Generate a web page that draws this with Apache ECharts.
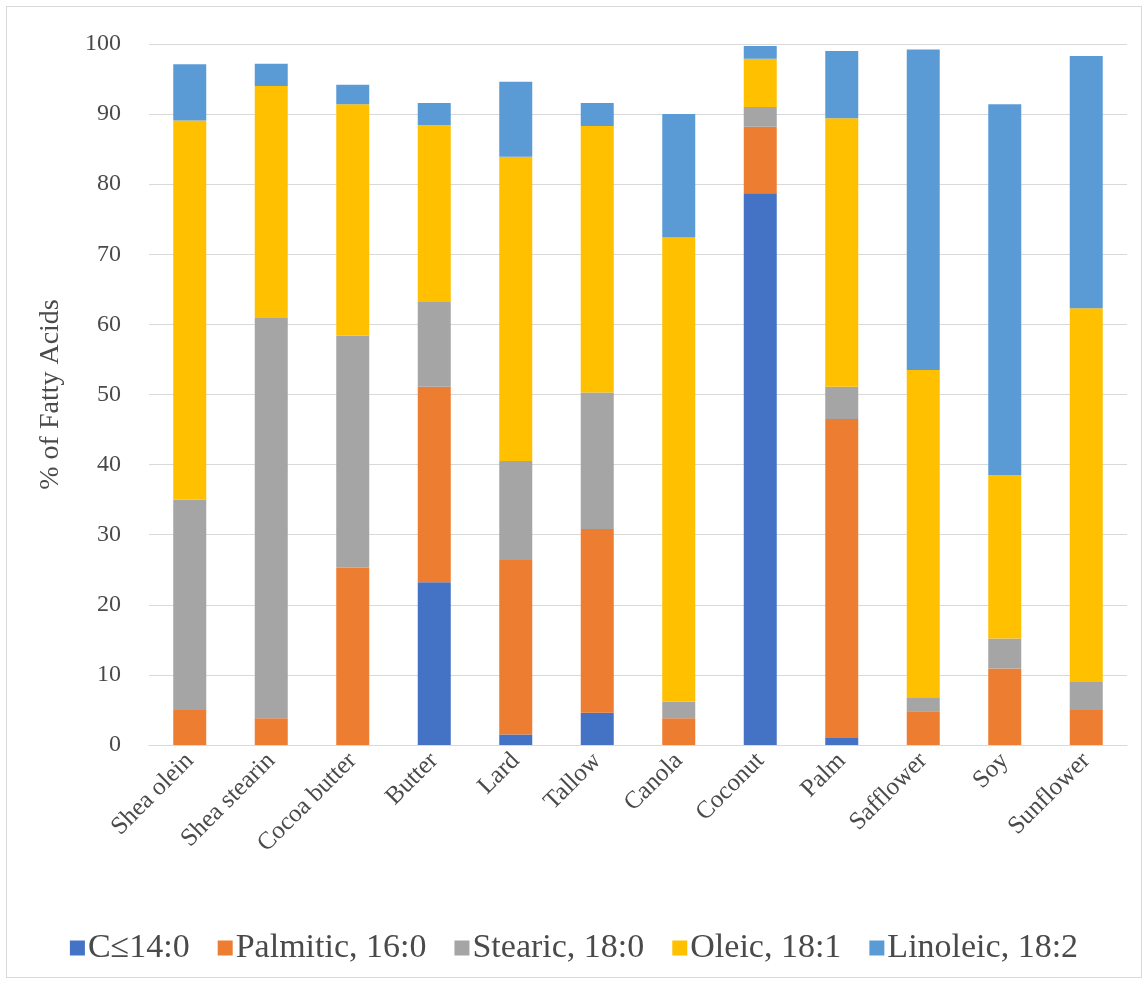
<!DOCTYPE html>
<html>
<head>
<meta charset="utf-8">
<script src="https://cdn.jsdelivr.net/npm/echarts@6/dist/echarts.min.js"></script>
<style>
  html, body { margin: 0; padding: 0; background: #fff; }
  #chart { width: 1148px; height: 984px; }
  #frame { position: absolute; left: 6px; top: 6px; width: 1134px; height: 970px; border: 1px solid #d9d9d9; pointer-events: none; }
</style>
</head>
<body>
<div id="chart"></div>
<div id="frame"></div>
<script>
const oils = ['Shea olein', 'Shea stearin', 'Cocoa butter', 'Butter', 'Lard', 'Tallow',
  'Canola', 'Coconut', 'Palm', 'Safflower', 'Soy', 'Sunflower']
const yTicks = [0, 10, 20, 30, 40, 50, 60, 70, 80, 90, 100]

// % of fatty acids
const shortChain = [0, 0, 0, 23.2, 1.5, 4.6, 0, 78.7, 1.0, 0, 0, 0]
const palmitic = [5.0, 3.8, 25.3, 27.9, 24.9, 26.2, 3.8, 9.5, 45.5, 4.8, 10.9, 5.0]
const stearic = [30.0, 57.1, 33.1, 12.1, 14.1, 19.5, 2.4, 2.8, 4.6, 2.0, 4.3, 4.0]
const oleic = [54.1, 33.1, 33.0, 25.2, 43.4, 38.0, 66.2, 6.9, 38.3, 46.7, 23.3, 53.3]
const linoleic = [8.0, 3.2, 2.8, 3.2, 10.7, 3.3, 17.6, 1.8, 9.6, 45.7, 52.9, 36.0]

const seriesNames = ['C\u226414:0', 'Palmitic, 16:0', 'Stearic, 18:0', 'Oleic, 18:1', 'Linoleic, 18:2']
const seriesColors = ['#4472C4', '#ED7D31', '#A5A5A5', '#FFC000', '#5B9BD5']
const seriesData = [shortChain, palmitic, stearic, oleic, linoleic]

const font = '"Liberation Serif", "Times New Roman", serif'

const series = seriesNames.map((name, i) => {
  return {
    name: name,
    type: 'bar',
    stack: 'total',
    barWidth: 33,
    itemStyle: { color: seriesColors[i] },
    data: seriesData[i]
  }
})

let option = {
  backgroundColor: '#ffffff',
  animation: false,
  textStyle: { fontFamily: font },
  grid: {
    left: 149,
    right: 21,
    top: 44,
    bottom: 239
  },
  legend: {
    top: 926,
    left: 'center',
    itemWidth: 15,
    itemHeight: 15,
    itemGap: 28,
    icon: 'rect',
    textStyle: { fontFamily: font, fontSize: 34, color: '#4a4a4a', padding: [0, 0, 0, -2] },
    data: seriesNames
  },
  xAxis: {
    type: 'category',
    data: oils,
    axisTick: { show: false },
    axisLine: { lineStyle: { color: '#d9d9d9', width: 1 } },
    axisLabel: {
      rotate: 45,
      interval: 0,
      margin: 12,
      fontFamily: font,
      fontSize: 25,
      color: '#4a4a4a'
    }
  },
  yAxis: {
    type: 'value',
    min: 0,
    max: 100,
    interval: 10,
    name: '% of Fatty Acids',
    nameLocation: 'middle',
    nameGap: 84,
    nameTextStyle: { fontFamily: font, fontSize: 28, color: '#4a4a4a' },
    axisLine: { show: false },
    axisTick: { show: false },
    splitLine: { lineStyle: { color: '#d9d9d9', width: 1 } },
    axisLabel: {
      fontFamily: font,
      fontSize: 24,
      color: '#4a4a4a',
      margin: 28,
      formatter: v => yTicks.includes(v) ? String(v) : ''
    }
  },
  series
}

const myChart = echarts.init(document.getElementById('chart'))
myChart.setOption(option)
</script>
</body>
</html>
